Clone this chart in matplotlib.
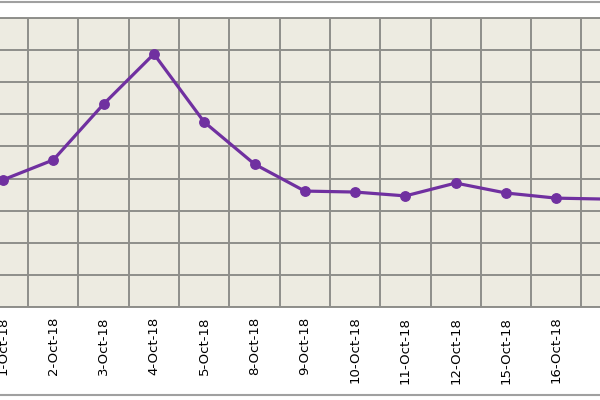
import numpy as np
import matplotlib
matplotlib.use('Agg')
import matplotlib.pyplot as plt
from matplotlib.lines import Line2D

# 数据 (y轴刻度在截图里看不到, 用网格单位估读)
dates = ['1-Oct-18', '2-Oct-18', '3-Oct-18', '4-Oct-18', '5-Oct-18', '8-Oct-18',
         '9-Oct-18', '10-Oct-18', '11-Oct-18', '12-Oct-18', '15-Oct-18', '16-Oct-18',
         '17-Oct-18']
values = [3.96, 4.58, 6.32, 7.88, 5.76, 4.45, 3.61, 3.58, 3.46, 3.86, 3.55, 3.39, 3.36]

fig = plt.figure(figsize=(6, 4), dpi=100)
fig.patch.set_facecolor('white')

# 截图只截了中间一段, 坐标区左右都超出画面
ax = fig.add_axes([0, 1 - 307 / 400, 1, 289 / 400])
ax.set_facecolor('#EDEBE1')

x = np.arange(len(dates))
ax.plot(x, values, color='#7030A0', linewidth=2.3, marker='o', markersize=6.8,
        markerfacecolor='#7030A0', markeredgecolor='#7030A0', zorder=3)

ax.set_xticks(x)
ax.set_xticklabels(dates, rotation=90, fontsize=9.5, va='top', ha='center')
ax.set_xticks(x[:-1] + 0.5, minor=True)
ax.set_yticks(np.arange(0, 10, 1))
ax.tick_params(axis='x', which='both', length=0, pad=7)
ax.tick_params(axis='y', which='both', length=0, labelleft=False)

# set_xticks 会撑大范围, 所以最后再设 xlim
step = 50.3
ax.set_xlim(-3 / step, (600 - 3) / step)
ax.set_ylim(0, 9)

ax.grid(True, which='minor', axis='x', color='#8E8E8A', linewidth=1.4)
ax.grid(True, which='major', axis='y', color='#8E8E8A', linewidth=1.4)
ax.grid(False, which='major', axis='x')
ax.set_axisbelow(True)

for s in ['left', 'right']:
    ax.spines[s].set_visible(False)
for s in ['top', 'bottom']:
    ax.spines[s].set_color('#8E8E8A')
    ax.spines[s].set_linewidth(1.4)

# 外框线
fig.add_artist(Line2D([0, 1], [1 - 1.5 / 400, 1 - 1.5 / 400], color='#A0A0A0', linewidth=1.5))
fig.add_artist(Line2D([0, 1], [1 - 395 / 400, 1 - 395 / 400], color='#A0A0A0', linewidth=1.5))

fig.savefig('out.png', dpi=100)
